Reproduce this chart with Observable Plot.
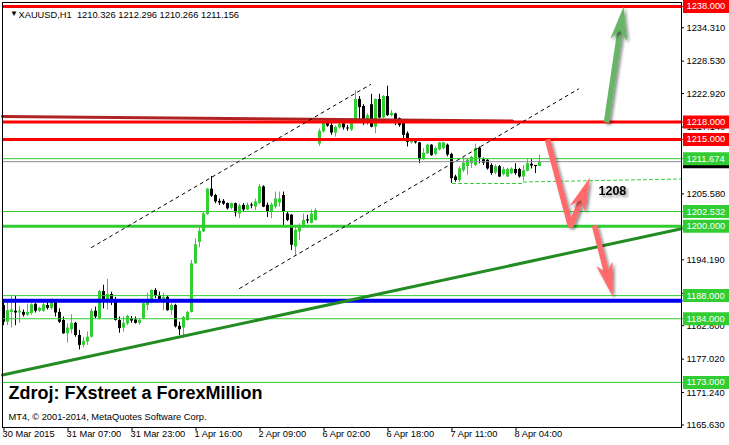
<!DOCTYPE html>
<html><head><meta charset="utf-8">
<script src="https://cdn.jsdelivr.net/npm/d3@7"></script>
<script src="https://cdn.jsdelivr.net/npm/@observablehq/plot@0.6"></script>
<style>
html,body{margin:0;padding:0;background:#fff;}
#chart svg{display:block;}
</style></head><body><div id="chart"></div>
<script>
// ---------------- DATA ----------------
const symbol = "XAUUSD,H1";
const open = [1186.3,1183.4,1185.1,1185.3,1185.0,1185.1,1184.6,1184.9,1186.5,1185.3,
1185.3,1186.3,1185.8,1187.0,1185.1,1183.7,1181.4,1182.1,1183.2,1181.1,
1179.4,1180.0,1180.8,1185.3,1184.0,1188.7,1186.9,1188.2,1187.2,1183.7,
1182.4,1183.1,1184.0,1183.8,1183.2,1184.0,1186.3,1186.7,1188.9,1188.0,
1186.9,1187.7,1185.4,1186.3,1182.7,1182.4,1183.7,1185.1,1193.5,1197.2,
1199.0,1202.0,1206.4,1205.3,1204.3,1204.3,1203.9,1203.1,1203.9,1202.1,
1203.6,1202.8,1203.6,1203.3,1203.9,1206.8,1203.6,1202.4,1203.3,1204.0,
1205.3,1202.1,1201.9,1196.4,1199.0,1200.1,1201.1,1200.5,1201.0,1214.2,
1216.3,1217.8,1217.4,1216.1,1217.0,1217.7,1216.9,1216.6,1218.4,1221.9,
1220.7,1218.0,1221.0,1217.1,1221.9,1218.7,1222.4,1219.1,1219.4,1218.6,
1218.0,1216.0,1214.4,1214.6,1214.4,1211.5,1212.5,1214.0,1212.4,1213.2,
1213.4,1214.0,1212.4,1208.5,1207.9,1209.6,1210.3,1210.8,1210.5,1213.5,
1211.5,1211.4,1210.5,1209.2,1210.3,1208.9,1208.5,1209.1,1209.8,1209.8,
1208.5,1209.5,1210.7,1210.5,1210.326];
const high = [1186.9,1187.2,1188.0,1188.0,1186.1,1185.5,1186.5,1186.6,1186.6,1186.0,
1186.6,1186.9,1187.4,1187.3,1185.7,1184.3,1183.1,1184.7,1183.4,1182.0,
1180.8,1181.7,1185.7,1186.0,1188.9,1189.8,1190.8,1188.6,1187.7,1184.3,
1184.3,1184.6,1184.4,1184.3,1184.0,1186.7,1188.4,1189.0,1189.2,1188.6,
1188.4,1188.0,1186.6,1186.5,1183.4,1184.4,1185.3,1194.1,1197.8,1199.8,
1202.4,1206.5,1208.6,1205.5,1204.7,1204.6,1204.0,1204.0,1204.0,1203.8,
1203.9,1204.0,1204.0,1204.7,1207.2,1207.0,1204.0,1204.0,1205.9,1205.9,
1205.9,1202.4,1202.0,1199.8,1200.4,1202.1,1201.9,1202.8,1203.0,1216.8,
1218.0,1218.6,1217.8,1217.3,1217.8,1218.0,1217.4,1218.6,1223.4,1222.4,
1221.0,1219.4,1222.8,1222.0,1222.8,1222.6,1224.2,1220.0,1219.5,1218.7,
1218.4,1216.3,1214.8,1214.9,1214.5,1213.4,1214.2,1214.1,1213.7,1214.5,
1214.5,1214.2,1212.6,1208.8,1210.3,1211.8,1211.6,1212.1,1214.2,1213.7,
1211.8,1211.5,1210.8,1210.6,1210.5,1210.2,1210.0,1210.1,1210.8,1210.0,
1210.5,1211.5,1211.5,1210.5,1212.296];
const low = [1182.8,1182.8,1182.4,1182.8,1183.2,1184.3,1184.4,1184.6,1185.0,1185.1,
1185.1,1185.5,1185.5,1184.3,1183.2,1181.3,1179.8,1181.4,1180.8,1178.6,
1179.0,1179.4,1180.7,1184.0,1183.8,1185.7,1185.5,1186.3,1183.6,1181.5,
1181.7,1182.8,1183.2,1183.1,1182.9,1183.9,1185.4,1186.6,1187.5,1186.9,
1185.4,1185.3,1184.6,1182.4,1181.1,1180.8,1183.6,1185.0,1193.4,1196.3,
1198.9,1201.9,1205.0,1203.9,1203.6,1203.6,1202.8,1202.8,1201.6,1201.3,
1202.4,1202.7,1203.0,1202.7,1203.8,1203.2,1201.5,1201.3,1203.0,1203.3,
1200.1,1200.8,1195.8,1194.9,1197.5,1199.6,1200.4,1200.4,1200.9,1213.8,
1216.1,1217.1,1215.7,1215.4,1216.8,1216.6,1216.4,1216.4,1218.3,1218.4,
1217.4,1217.4,1217.0,1216.0,1218.6,1218.6,1219.0,1218.9,1217.4,1217.1,
1214.8,1213.7,1214.2,1214.2,1210.8,1211.4,1212.4,1212.1,1212.2,1213.0,
1213.2,1212.0,1207.4,1207.6,1207.6,1209.3,1208.8,1210.0,1210.3,1210.8,
1210.5,1209.7,1208.8,1208.9,1208.4,1208.7,1208.4,1208.9,1208.8,1208.3,
1207.8,1209.4,1209.9,1209.1,1210.266];
const close = [1183.4,1185.4,1185.5,1185.0,1185.3,1184.6,1185.1,1186.4,1185.3,1185.8,
1186.4,1185.8,1187.0,1185.0,1183.4,1181.4,1182.4,1183.2,1181.1,1179.4,
1180.1,1180.8,1185.3,1184.3,1188.7,1186.9,1188.2,1187.3,1183.7,1182.3,
1183.2,1184.4,1183.6,1183.2,1183.7,1186.6,1187.3,1188.9,1187.9,1187.0,
1187.7,1185.4,1186.3,1182.6,1182.1,1184.2,1185.1,1193.5,1196.8,1199.1,
1202.1,1206.4,1205.2,1204.2,1204.0,1203.8,1203.0,1203.9,1202.3,1203.5,
1202.8,1203.6,1203.5,1204.2,1206.8,1203.3,1202.4,1203.7,1204.7,1204.7,
1202.4,1201.0,1196.7,1199.3,1199.8,1201.0,1200.9,1202.1,1202.7,1216.4,
1217.8,1217.3,1216.1,1217.1,1217.6,1217.0,1216.8,1218.4,1221.9,1220.5,
1218.3,1219.1,1217.1,1221.9,1218.7,1222.4,1219.1,1219.5,1217.8,1217.4,
1215.7,1214.5,1214.7,1214.4,1211.5,1212.6,1214.0,1212.2,1213.4,1214.4,
1214.4,1212.3,1208.2,1207.9,1209.9,1210.9,1211.4,1211.9,1213.4,1211.8,
1210.9,1209.9,1209.1,1210.3,1208.5,1209.8,1209.8,1209.9,1209.1,1208.5,
1209.6,1210.8,1210.4,1210.3,1211.156];

// x axis: bar index -> label
const xTickIndex = [0, 16, 32, 48, 64, 80, 96, 112, 128];
const xTickLabels = ["30 Mar 2015","31 Mar 07:00","31 Mar 23:00","1 Apr 16:00","2 Apr 09:00","6 Apr 02:00","6 Apr 18:00","7 Apr 11:00","8 Apr 04:00"];
// price axis tick labels (visible ones)
const yTicks = [1165.63,1171.24,1177.02,1182.80,1188.41,1194.19,1205.58,1217.14,1222.92,1228.53,1234.31];

// horizontal levels
const redLevels = [1238, 1218, 1215];
const greenLevels = [1211.674, 1202.532, 1188, 1184, 1173];
const greenMajorLevels = [1200];
const blueLevels = [1187.1];
const bidPrice = 1211.156;

// drawn objects (bar index, price)
const oldResistance = [[-0.375, 1218.96], [127.125, 1218.19]];
const supportTrend = [[-0.375, 1174.26], [169.375, 1199.57]];
const channelUpper = [[21.875, 1196.32], [91.625, 1224.49]];
const channelLower = [[58.875, 1189.23], [143.625, 1223.72]];
const dashedSupport1 = [[112.125, 1207.38], [129.875, 1207.38]];
const dashedSupport2 = [[129.875, 1207.64], [169.375, 1208.16]];
const redArrowA = [[135.875, 1214.99], [141.625, 1199.95], [146.375, 1208.25]];
const redArrowB = [[147.625, 1200.12], [152.125, 1188.02]];
const greenArrow = [[150.625, 1217.93], [154.875, 1237.81]];
const noteText = ["1208"];
const notePos = [[148.625, 1206.0]];
const sourceText = "Zdroj: FXstreet a ForexMillion";
const copyrightText = "MT4, \u00a9 2001-2014, MetaQuotes Software Corp.";

// ---------------- LAYOUT / STYLE ----------------
const W = 729, H = 445;
const mL = 2, mR = 48, mT = 2, mB = 18;
const xDomain = [-0.375, 169.375];
const yDomain = [1165.2, 1238.67];
const pxPerBar = (W - mL - mR) / (xDomain[1] - xDomain[0]);
const pxPerUnit = (H - mT - mB) / (yDomain[1] - yDomain[0]);
const bx = px => px / pxPerBar;
const by = px => px / pxPerUnit;
const xr = xDomain[1];
const GREEN = "#32cd32", RED = "#ff0000", BLACK = "#000000";
const RED_ARROW = "#ff6b6b", GREEN_ARROW = "#67b467";
const FONT = "'Liberation Sans', Arial, sans-serif";

const candles = open.map((o, i) => ({i, o, h: high[i], l: low[i], c: close[i], up: close[i] >= o}));
const bodyLo = d => Math.min(d.o, d.c);
const bodyHi = d => Math.max(Math.max(d.o, d.c), Math.min(d.o, d.c) + by(1));
const ups = candles.filter(d => d.up), downs = candles.filter(d => !d.up);

const pts = (arr, id) => arr.map(([x, y]) => ({x, y, id}));

// pixel mapping identical to the plot's scales (used only to shape arrowheads)
const sx = d3.scaleLinear(xDomain, [mL, W - mR]);
const sy = d3.scaleLinear(yDomain, [H - mB, mT]);

function buildArrow(arr, id) {
  const P = arr.map(([x, y]) => [sx(x), sy(y)]);
  const T = P[P.length - 1], Q = P[P.length - 2];
  const dx = T[0] - Q[0], dy = T[1] - Q[1], len = Math.hypot(dx, dy);
  const u = [dx / len, dy / len], n = [-u[1], u[0]];
  const L = 32, Wd = 8, N = 23;
  const at = (a, b) => [T[0] - a * u[0] + b * n[0], T[1] - a * u[1] + b * n[1]];
  const inv = p => ({x: sx.invert(p[0]), y: sy.invert(p[1]), id});
  const shaft = P.slice(0, -1).concat([at(N - 3, 0)]).map(inv);
  const head = [T, at(L, Wd), at(N, 0), at(L, -Wd), T].map(inv);
  return {shaft, head};
}
const aRA = buildArrow(redArrowA, "ra");
const aRB = buildArrow(redArrowB, "rb");
const aG = buildArrow(greenArrow, "g");
const redShafts = aRA.shaft.concat(aRB.shaft), redHeads = aRA.head.concat(aRB.head);

const title = `${symbol}\u00a0\u00a0${open[134].toFixed(3)} ${high[134].toFixed(3)} ${low[134].toFixed(3)} ${close[134].toFixed(3)}`;
const boxX1 = xr + bx(2), boxX2 = xr + bx(48);
const SH = "shadowed";

const plot = Plot.plot({
  width: W, height: H,
  marginLeft: mL, marginRight: mR, marginTop: mT, marginBottom: mB,
  x: {domain: xDomain, axis: null},
  y: {domain: yDomain, axis: null},
  style: {fontFamily: FONT, fontSize: "9.3px", background: "white", color: "black", overflow: "visible"},
  marks: [
    // candles
    Plot.rect(ups, {x1: d => d.i - bx(0.5), x2: d => d.i + bx(0.5), y1: "l", y2: "h", fill: GREEN}),
    Plot.rect(downs, {x1: d => d.i - bx(0.5), x2: d => d.i + bx(0.5), y1: "l", y2: "h", fill: BLACK}),
    Plot.rect(ups, {x1: d => d.i - bx(1.5), x2: d => d.i + bx(1.5), y1: bodyLo, y2: bodyHi, fill: GREEN}),
    Plot.rect(downs, {x1: d => d.i - bx(1.5), x2: d => d.i + bx(1.5), y1: bodyLo, y2: bodyHi, fill: BLACK}),
    // levels
    Plot.ruleY(greenLevels, {stroke: GREEN, strokeWidth: 1}),
    Plot.ruleY(greenMajorLevels, {stroke: GREEN, strokeWidth: 3}),
    Plot.ruleY(blueLevels, {stroke: "#0000ee", strokeWidth: 4}),
    Plot.ruleY([bidPrice], {stroke: "#8a8f9a", strokeWidth: 1}),
    Plot.line(pts(oldResistance, "o"), {x: "x", y: "y", stroke: "#b22222", strokeWidth: 3}),
    Plot.ruleY(redLevels, {stroke: RED, strokeWidth: 3}),
    // trend lines & channels
    Plot.line(pts(supportTrend, "t"), {x: "x", y: "y", stroke: "#228b22", strokeWidth: 3}),
    Plot.line(pts(channelUpper, "u").concat(pts(channelLower, "l")), {x: "x", y: "y", z: "id", stroke: BLACK, strokeWidth: 1, strokeDasharray: "3,4"}),
    Plot.line(pts(dashedSupport1, "d1").concat(pts(dashedSupport2, "d2")), {x: "x", y: "y", z: "id", stroke: GREEN, strokeWidth: 1, strokeDasharray: "3,3"}),
    // arrows
    Plot.line(redShafts, {x: "x", y: "y", z: "id", stroke: RED_ARROW, strokeWidth: 5.5, strokeLinecap: "butt", strokeLinejoin: "miter", ariaDescription: SH}),
    Plot.line(redHeads, {x: "x", y: "y", z: "id", fill: RED_ARROW, stroke: RED_ARROW, strokeWidth: 0.5, ariaDescription: SH}),
    Plot.line(aG.shaft, {x: "x", y: "y", stroke: GREEN_ARROW, strokeWidth: 5.5, strokeLinecap: "butt", ariaDescription: SH}),
    Plot.line(aG.head, {x: "x", y: "y", fill: GREEN_ARROW, stroke: GREEN_ARROW, strokeWidth: 0.5, ariaDescription: SH}),
    Plot.text(noteText, {x: (d, k) => notePos[k][0], y: (d, k) => notePos[k][1], text: d => d, textAnchor: "start", fontWeight: "bold", fontSize: 12.5, fill: BLACK, ariaDescription: SH}),
    // price axis
    Plot.ruleY(yTicks, {x1: xr, x2: xr + bx(3), stroke: BLACK}),
    Plot.text(yTicks, {x: xr, y: d => d, dx: 5, text: d => d.toFixed(3), textAnchor: "start", fill: BLACK}),
    Plot.ruleY([bidPrice], {x1: boxX1, x2: boxX2, stroke: BLACK, strokeWidth: 13}),
    Plot.ruleY(redLevels, {x1: xr, x2: xr + bx(3), stroke: RED}),
    Plot.ruleY(greenLevels.concat(greenMajorLevels), {x1: xr, x2: xr + bx(3), stroke: GREEN}),
    Plot.ruleY(blueLevels, {x1: xr, x2: xr + bx(3), stroke: "#0000ee"}),
    Plot.ruleY(redLevels, {x1: boxX1, x2: boxX2, stroke: RED, strokeWidth: 13}),
    Plot.ruleY(greenLevels.concat(greenMajorLevels), {x1: boxX1, x2: boxX2, stroke: GREEN, strokeWidth: 13}),
    Plot.text(redLevels.concat(greenLevels, greenMajorLevels), {x: xr, y: d => d, dx: 5, text: d => d.toFixed(3), textAnchor: "start", fill: "white"}),
    // time axis
    Plot.ruleX(xTickIndex, {x: d => d, y1: yDomain[0], y2: yDomain[0] - by(4), stroke: BLACK}),
    Plot.text(xTickIndex, {x: d => d, frameAnchor: "bottom", dy: 9, dx: -1.5, text: (d, k) => xTickLabels[k], textAnchor: "start", fill: BLACK}),
    // texts
    Plot.text(["\u25bc"], {frameAnchor: "top-left", dx: 7.5, dy: 8, fontSize: 8, fill: BLACK}),
    Plot.text([title], {frameAnchor: "top-left", dx: 16, dy: 8.5, textAnchor: "start", fill: BLACK}),
    Plot.text([sourceText], {frameAnchor: "bottom-left", dx: 6, dy: -29, textAnchor: "start", fontSize: 18, fontWeight: "bold", fill: BLACK}),
    Plot.text([copyrightText], {frameAnchor: "bottom-left", dx: 6, dy: -8, textAnchor: "start", fill: BLACK}),
    Plot.frame({stroke: BLACK})
  ]
});

// soft drop shadow (SVG filter) on the hand-drawn arrows and the note
const ns = "http://www.w3.org/2000/svg";
const defs = document.createElementNS(ns, "defs");
defs.innerHTML = '<filter id="shadow" x="-50%" y="-50%" width="200%" height="200%"><feGaussianBlur in="SourceAlpha" stdDeviation="1.4"/><feOffset dx="2" dy="2" result="b"/><feComponentTransfer><feFuncA type="linear" slope="0.45"/></feComponentTransfer><feMerge><feMergeNode/><feMergeNode in="SourceGraphic"/></feMerge></filter>';
plot.insertBefore(defs, plot.firstChild);
plot.querySelectorAll('[aria-description="' + SH + '"]').forEach(g => g.setAttribute("filter", "url(#shadow)"));

document.getElementById("chart").appendChild(plot);
</script>
</body></html>
